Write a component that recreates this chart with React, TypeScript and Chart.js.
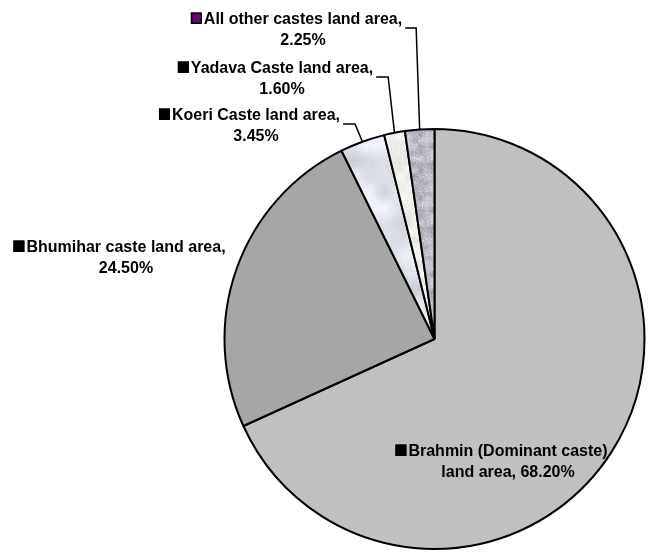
import React, { useEffect, useRef } from "react";
import { Chart, registerables } from "chart.js";

Chart.register(...registerables);

// ---- data ----
const categories = [
  "Brahmin (Dominant caste) land area",
  "Bhumihar caste land area",
  "Koeri Caste land area",
  "Yadava Caste land area",
  "All other castes land area",
];
const shares = [68.2, 24.5, 3.45, 1.6, 2.25];
const valueLabels = ["68.20%", "24.50%", "3.45%", "1.60%", "2.25%"];

// ---- styles / layout (not data) ----
const LABEL_LAYOUT = [
  { cx: 508, cy: 460, elbow: 0, key: "#000000" },
  { cx: 126, cy: 256, elbow: 0, key: "#000000" },
  { cx: 256, cy: 124, elbow: 12, key: "#000000" },
  { cx: 282, cy: 77, elbow: 12, key: "#000000" },
  { cx: 303, cy: 28, elbow: 11, key: "#6a0a6a" },
];
const FONT = "bold 16px 'Liberation Sans', Arial, sans-serif";

function hash(i: number, j: number, seed: number) {
  const s = Math.sin(i * 12.9898 + j * 78.233 + seed * 37.719) * 43758.5453;
  return s - Math.floor(s);
}

function makeTexture(base: number[], amp: number, cell: number, fine: number, seed: number) {
  const size = 64;
  const c = document.createElement("canvas");
  c.width = size;
  c.height = size;
  const ctx = c.getContext("2d")!;
  const img = ctx.createImageData(size, size);
  const n = size / cell;
  const val = (gx: number, gy: number) => hash(((gx % n) + n) % n, ((gy % n) + n) % n, seed);
  for (let y = 0; y < size; y++) {
    for (let x = 0; x < size; x++) {
      const fx = x / cell, fy = y / cell;
      const x0 = Math.floor(fx), y0 = Math.floor(fy);
      const tx = fx - x0, ty = fy - y0;
      const sx = tx * tx * (3 - 2 * tx), sy = ty * ty * (3 - 2 * ty);
      const a = val(x0, y0), b = val(x0 + 1, y0), cc = val(x0, y0 + 1), d = val(x0 + 1, y0 + 1);
      const v = (a * (1 - sx) + b * sx) * (1 - sy) + (cc * (1 - sx) + d * sx) * sy;
      const f = hash(x, y, seed + 5);
      const delta = (v - 0.5) * amp + (f - 0.5) * fine;
      const k = (y * size + x) * 4;
      img.data[k] = Math.max(0, Math.min(255, base[0] + delta));
      img.data[k + 1] = Math.max(0, Math.min(255, base[1] + delta));
      img.data[k + 2] = Math.max(0, Math.min(255, base[2] + delta));
      img.data[k + 3] = 255;
    }
  }
  ctx.putImageData(img, 0, 0);
  return ctx.createPattern(c, "repeat")!;
}

function splitLabel(i: number): [string, string] {
  if (i === 0) return ["Brahmin (Dominant caste)", "land area, " + valueLabels[i]];
  return [categories[i] + ",", valueLabels[i]];
}

const labelPlugin = {
  id: "pieLabels",
  afterDraw(chart: any) {
    const ctx = chart.ctx as CanvasRenderingContext2D;
    const meta = chart.getDatasetMeta(0);
    ctx.save();
    ctx.font = FONT;
    ctx.fillStyle = "#000";
    ctx.textAlign = "left";
    ctx.textBaseline = "alphabetic";
    meta.data.forEach((arc: any, i: number) => {
      const lay = LABEL_LAYOUT[i];
      const [l1, l2] = splitLabel(i);
      const w1 = ctx.measureText(l1).width;
      const w2 = ctx.measureText(l2).width;
      const b1 = lay.cy - 4;
      const b2 = lay.cy + 16.5;
      const x1 = lay.cx - w1 / 2;
      ctx.fillStyle = "#000";
      ctx.fillText(l1, x1, b1);
      ctx.fillText(l2, lay.cx - w2 / 2, b2);
      // legend key square
      ctx.fillStyle = lay.key;
      ctx.fillRect(x1 - 13, b1 - 11.5, 11, 11.5);
      ctx.strokeStyle = "#000";
      ctx.lineWidth = 1.5;
      ctx.strokeRect(x1 - 12.25, b1 - 10.75, 9.5, 10);
      if (lay.elbow > 0) {
        const p = arc.getProps(["x", "y", "startAngle", "endAngle", "outerRadius"], true);
        const mid = (p.startAngle + p.endAngle) / 2;
        const ax = p.x + Math.cos(mid) * p.outerRadius;
        const ay = p.y + Math.sin(mid) * p.outerRadius;
        const right = lay.cx + Math.max(w1, w2) / 2 + 3;
        ctx.beginPath();
        ctx.moveTo(right, lay.cy);
        ctx.lineTo(right + lay.elbow, lay.cy);
        ctx.lineTo(ax, ay);
        ctx.strokeStyle = "#000";
        ctx.lineWidth = 1.5;
        ctx.stroke();
      }
    });
    ctx.restore();
  },
};

export default function App() {
  const ref = useRef<HTMLCanvasElement | null>(null);
  useEffect(() => {
    if (!ref.current) return;
    const colors: any[] = [
      "#c0c0c0",
      "#a6a6a6",
      makeTexture([222, 225, 231], 40, 16, 8, 1),
      makeTexture([238, 238, 234], 20, 8, 14, 2),
      makeTexture([184, 184, 194], 46, 6, 34, 3),
    ];
    const chart = new Chart(ref.current, {
      type: "pie",
      data: {
        labels: categories,
        datasets: [
          {
            data: shares,
            backgroundColor: colors,
            borderColor: "#000000",
            borderWidth: 2,
          },
        ],
      },
      options: {
        animation: false,
        responsive: false,
        devicePixelRatio: 1,
        events: [],
        layout: { padding: { left: 223, right: 5, top: 128, bottom: 2 } },
        plugins: {
          legend: { display: false },
          tooltip: { enabled: false },
        },
      },
      plugins: [labelPlugin],
    });
    return () => chart.destroy();
  }, []);
  return (
    <div style={{ position: "fixed", left: 0, top: 0, width: 651, height: 552, background: "#fff" }}>
      <canvas ref={ref} width={651} height={552} style={{ display: "block" }} />
    </div>
  );
}
